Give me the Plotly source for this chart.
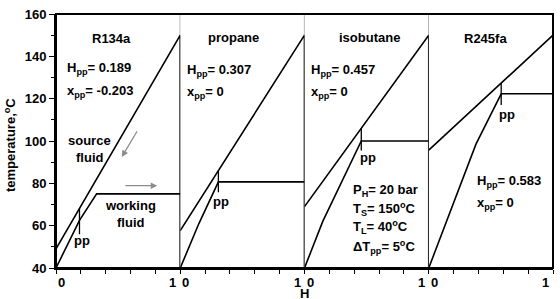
import plotly.graph_objects as go
from plotly.subplots import make_subplots

# ---------------- data ----------------
fluids = ["R134a", "propane", "isobutane", "R245fa"]
H_pp = [0.189, 0.307, 0.457, 0.583]
x_pp = ["-0.203", "0", "0", "0"]
source_T0 = [49.0, 57.7, 69.0, 95.7]
source_T1 = 150.0
T_low = 40.0
work_H = [
    [0, 0.189, 0.327, 1],
    [0, 0.15, 0.307, 1],
    [0, 0.147, 0.457, 1],
    [0, 0.2, 0.38, 0.583, 1],
]
work_T = [
    [40, 62.5, 75, 75],
    [40, 61, 80.7, 80.7],
    [40, 62, 100, 100],
    [40, 70.5, 98.5, 122.3, 122.3],
]
pp_bottom = [56, 75.8, 95.5, 117]
y_ticks = [40, 60, 80, 100, 120, 140, 160]
x_ticks = [0, 0.2, 0.4, 0.6, 0.8, 1.0]

FONT = "Liberation Sans, Arial, sans-serif"
fig = make_subplots(rows=1, cols=4, shared_yaxes=True, horizontal_spacing=0)

f13 = dict(family=FONT, size=13, color="black")
ann = []
for i in range(4):
    col = i + 1
    xr = "x" if i == 0 else f"x{col}"
    # source fluid line (with closing vertical at H=1)
    fig.add_trace(go.Scatter(x=[0, 1, 1], y=[source_T0[i], source_T1, T_low], mode="lines",
                             line=dict(color="black", width=1.6), showlegend=False,
                             hoverinfo="skip"), row=1, col=col)
    # working fluid line
    fig.add_trace(go.Scatter(x=work_H[i], y=work_T[i], mode="lines",
                             line=dict(color="black", width=1.6), showlegend=False,
                             hoverinfo="skip"), row=1, col=col)
    # pinch point marker
    pp_top = source_T0[i] + (source_T1 - source_T0[i]) * H_pp[i]
    fig.add_trace(go.Scatter(x=[H_pp[i], H_pp[i]], y=[pp_top, pp_bottom[i]], mode="lines",
                             line=dict(color="black", width=1.3), showlegend=False,
                             hoverinfo="skip"), row=1, col=col)
    # tick labels 0 and 1
    ann.append(dict(x=0, y=0, xref=xr, yref="paper", text="<b>0</b>", showarrow=False,
                    xanchor="left", yanchor="top", xshift=0, yshift=-5, font=f13))
    ann.append(dict(x=1, y=0, xref=xr, yref="paper", text="<b>1</b>", showarrow=False,
                    xanchor="right", yanchor="top", xshift=-2, yshift=-5, font=f13))

# gray dividers between panels (upper part)
shapes = []
for xr in ["x", "x2", "x3"]:
    shapes.append(dict(type="line", xref=xr, yref="y", x0=1, x1=1, y0=40, y1=160,
                       line=dict(color="#8a8a8a", width=1.2), layer="below"))
shapes.append(dict(type="rect", xref="paper", yref="paper", x0=0, x1=1, y0=0, y1=1,
                   line=dict(color="black", width=2)))


def txt(x, y, t, xr, yr="y", anchor="left"):
    ann.append(dict(x=x, y=y, xref=xr, yref=yr, text=t, showarrow=False,
                    xanchor=anchor, yanchor="middle", font=f13))


# titles of panels
title_pos = [(0.45, 148.6), (0.43, 148.9), (0.52, 148.9), (0.456, 148.6)]
for i, (x, y) in enumerate(title_pos):
    xr = "x" if i == 0 else f"x{i+1}"
    txt(x, y, f"<b>{fluids[i]}</b>", xr, anchor="center")

# Hpp / xpp texts
hpp_pos = [(0.07, 134.3, 123.5), (0.035, 133.5, 122.7), (0.04, 133.5, 122.7), (0.37, 80.9, 70.7)]
for i, (x, y1, y2) in enumerate(hpp_pos):
    xr = "x" if i == 0 else f"x{i+1}"
    txt(x, y1, f"<b>H<sub>pp</sub>= {H_pp[i]}</b>", xr)
    txt(x, y2, f"<b>x<sub>pp</sub>= {x_pp[i]}</b>", xr)

# pp labels
pp_lab = [(0.21, 53.2), (0.33, 71.6), (0.51, 92.0), (0.63, 112.7)]
for i, (x, y) in enumerate(pp_lab):
    xr = "x" if i == 0 else f"x{i+1}"
    txt(x, y, "<b>pp</b>", xr, anchor="center")

# fluid labels in panel 1
txt(0.273, 100.4, "<b>source</b>", "x", anchor="center")
txt(0.273, 92.0, "<b>fluid</b>", "x", anchor="center")
txt(0.598, 69.3, "<b>working</b>", "x", anchor="center")
txt(0.598, 61.5, "<b>fluid</b>", "x", anchor="center")

# conditions in panel 3
cond = ["<b>P<sub>H</sub>= 20 bar</b>", "<b>T<sub>S</sub>= 150<sup>o</sup>C</b>",
        "<b>T<sub>L</sub>= 40<sup>o</sup>C</b>", "<b>\u0394T<sub>pp</sub>= 5<sup>o</sup>C</b>"]
cond_y = [76.6, 68.1, 59.2, 50.0]
for t, y in zip(cond, cond_y):
    txt(0.375, y, t, "x3")

# arrows in panel 1
ann.append(dict(x=0.53, y=92.5, ax=0.66, ay=105.3, xref="x", yref="y", axref="x", ayref="y",
                showarrow=True, arrowhead=2, arrowsize=1, arrowwidth=1.3, arrowcolor="#8c8c8c", text=""))
ann.append(dict(x=0.815, y=78.9, ax=0.547, ay=78.9, xref="x", yref="y", axref="x", ayref="y",
                showarrow=True, arrowhead=2, arrowsize=1, arrowwidth=1.3, arrowcolor="#8c8c8c", text=""))

# axis titles
ann.append(dict(x=0.5, y=0, xref="paper", yref="paper", text="<b>H</b>", showarrow=False,
                xanchor="center", yanchor="top", yshift=-16, font=f13))
ann.append(dict(x=0, y=0.5, xref="paper", yref="paper", text="<b>temperature,<sup>o</sup>C</b>",
                showarrow=False, textangle=-90, xanchor="right", yanchor="middle", xshift=-36,
                yshift=-4, font=f13))

for i in range(4):
    fig.update_xaxes(range=[0, 1], tickvals=x_ticks, showticklabels=False, ticks="outside",
                     ticklen=4, tickwidth=1.2, tickcolor="black", showgrid=False, zeroline=False,
                     showline=True, linecolor="black", linewidth=2, row=1, col=i + 1)
fig.update_yaxes(range=[40, 160], showgrid=False, zeroline=False)
fig.update_yaxes(tickvals=y_ticks, ticktext=[f"<b>{v}</b>" for v in y_ticks], ticks="outside",
                 ticklen=5, tickwidth=1.2, tickcolor="black", showline=True, linecolor="black",
                 linewidth=2, minor=dict(dtick=10, tick0=40, ticks="outside", ticklen=3,
                                         tickcolor="black", tickwidth=1.2),
                 tickfont=f13, ticklabeloverflow="allow", row=1, col=1)
for c in [2, 3, 4]:
    fig.update_yaxes(showticklabels=False, ticks="", row=1, col=c)

fig.update_layout(width=560, height=299, margin=dict(l=56, r=7, t=7, b=31),
                  plot_bgcolor="white", paper_bgcolor="white", annotations=ann, shapes=shapes,
                  font=dict(family=FONT, size=13, color="black"))
fig.write_html("out.html")
